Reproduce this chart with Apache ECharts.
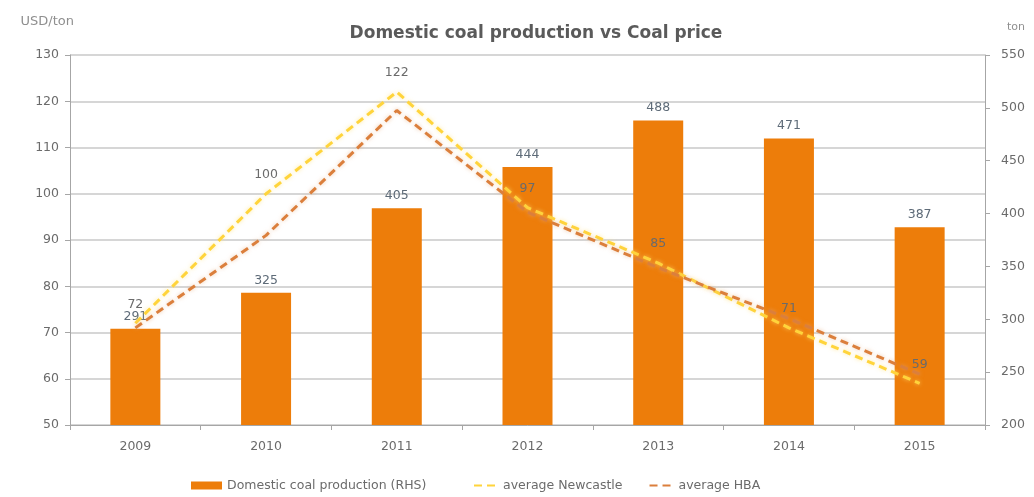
<!DOCTYPE html>
<html><head><meta charset="utf-8">
<script src="https://cdn.jsdelivr.net/npm/echarts@6/dist/echarts.min.js"></script>
<style>html,body{margin:0;padding:0;background:#fff}#c{width:1034px;height:497px}</style>
</head><body><div id="c"></div>
<script>
const categories = ['2009','2010','2011','2012','2013','2014','2015'];
const production = [291, 325, 405, 444, 488, 471, 387];
const newcastle = [72, 100, 122, 97, 85, 71, 59];
const hba = [71, 91, 118, 96, 84, 73, 61];

const font = 'Verdana, "DejaVu Sans", sans-serif';
const grey = '#6b6b6b';
const chart = echarts.init(document.getElementById('c'));
chart.setOption({
  animation: false,
  textStyle: {fontFamily: font},
  title: {text: 'Domestic coal production vs Coal price', left: 531, top: 20, textAlign: 'center',
    textStyle: {fontSize: 17, fontWeight: 'bold', color: '#5a5a5a', fontFamily: font}},
  grid: {left: 70, right: 49, top: 55, bottom: 72},
  legend: [
    {bottom: 0, left: 186, itemWidth: 31, itemHeight: 8,
     textStyle: {fontSize: 12.5, color: grey, fontFamily: font},
     data: [{name: 'Domestic coal production (RHS)', icon: 'rect'}]},
    {bottom: 0, left: 468, itemGap: 26, itemWidth: 24, itemHeight: 8,
     textStyle: {fontSize: 12.5, color: grey, fontFamily: font},
     data: [
       {name: 'average Newcastle', itemStyle: {opacity: 0}},
       {name: 'average HBA', itemStyle: {opacity: 0}}
     ]}
  ],
  xAxis: {type: 'category', data: categories, boundaryGap: true,
    axisLine: {lineStyle: {color: '#a6a6a6', width: 1}},
    axisTick: {show: true, length: 5, lineStyle: {color: '#a6a6a6'}},
    axisLabel: {fontSize: 12.5, color: grey, margin: 15, fontFamily: font}},
  yAxis: [
    {type: 'value', min: 50, max: 130, interval: 10, name: 'USD/ton', nameLocation: 'end',
     nameGap: 27, nameTextStyle: {fontSize: 13, color: '#8f8f8f', align: 'right', padding: [0, -4, 0, 0]},
     axisLine: {show: true, lineStyle: {color: '#a6a6a6'}},
     axisTick: {show: true, length: 5, lineStyle: {color: '#a6a6a6'}},
     axisLabel: {fontSize: 12.5, color: grey, margin: 11, fontFamily: font},
     splitLine: {lineStyle: {color: '#c8c8c8', width: 1.5}}},
    {type: 'value', min: 200, max: 550, interval: 50, name: 'ton', position: 'right',
     nameGap: 22, nameTextStyle: {fontSize: 11, color: '#8f8f8f', align: 'left', padding: [0, 0, 0, 22]},
     axisLine: {show: true, lineStyle: {color: '#a6a6a6'}},
     axisTick: {show: true, length: 5, lineStyle: {color: '#a6a6a6'}},
     axisLabel: {fontSize: 12.5, color: grey, margin: 16, fontFamily: font},
     splitLine: {show: false}}
  ],
  series: [
    {name: 'Domestic coal production (RHS)', type: 'bar', yAxisIndex: 1, data: production,
     barWidth: 50, itemStyle: {color: '#ED7D0A'},
     label: {show: true, position: 'top', fontSize: 12.5, color: '#5e6b78', distance: 6}},
    {name: 'average Newcastle', type: 'line', yAxisIndex: 0, data: newcastle,
     symbol: 'circle', symbolSize: 1, itemStyle: {color: 'rgba(0,0,0,0)'},
     lineStyle: {color: '#FFD43B', width: 3, type: [8, 5], shadowColor: 'rgba(255,225,120,0.7)', shadowBlur: 4}, z: 3,
     label: {show: true, position: 'top', fontSize: 12.5, color: '#6b6b6b', distance: 12}},
    {name: 'average HBA', type: 'line', yAxisIndex: 0, data: hba,
     symbol: 'circle', symbolSize: 1, itemStyle: {color: 'rgba(0,0,0,0)'},
     lineStyle: {color: '#DB7F3C', width: 3, type: [8, 5], shadowColor: 'rgba(230,170,120,0.6)', shadowBlur: 4}, z: 3}
  ]
});
</script></body></html>
